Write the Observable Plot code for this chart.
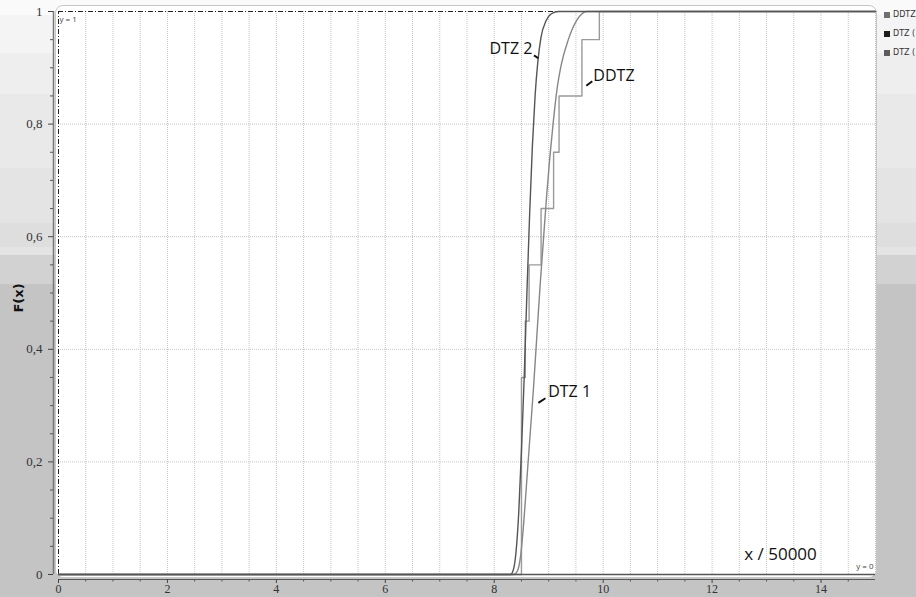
<!DOCTYPE html>
<html>
<head>
<meta charset="utf-8">
<script src="https://cdn.jsdelivr.net/npm/d3@7"></script>
<script src="https://cdn.jsdelivr.net/npm/@observablehq/plot@0.6"></script>
<style>
  html, body { margin: 0; padding: 0; }
  #wrap {
    position: relative; width: 916px; height: 597px; overflow: hidden;
    background: linear-gradient(to bottom,
      #fafafa 0px, #fafafa 15px,
      #f4f4f4 15px, #f4f4f4 53px,
      #eeeeee 53px, #eeeeee 94px,
      #e9e9e9 94px, #e9e9e9 168px,
      #e4e4e4 168px, #e4e4e4 223px,
      #dedede 223px, #dedede 247px,
      #e4e4e4 247px, #e4e4e4 255px,
      #d2d2d2 255px, #d2d2d2 284px,
      #c4c4c4 284px, #c4c4c4 597px);
  }
  #panel {
    position: absolute; left: 55px; top: 5px; width: 820px; height: 571px;
    background: #fff; border: 1px solid #c6c6c6; border-radius: 8px;
  }
  #chart { position: absolute; left: 0; top: 0; }
  #ylab {
    position: absolute; left: 18px; top: 298px;
    transform: translate(-50%, -50%) rotate(-90deg);
    font: bold 13px "DejaVu Sans", sans-serif; color: #111; white-space: nowrap;
  }
  #legend { position: absolute; left: 884px; top: 5px; font: 8px "DejaVu Sans", sans-serif; color: #333; white-space: nowrap; }
  #legend div { height: 19px; display: flex; align-items: center; }
  #legend span.sw { display: inline-block; width: 6px; height: 6px; margin-right: 3px; }
</style>
</head>
<body>
<div id="wrap">
  <div id="panel"></div>
  <div id="chart"></div>
  <div id="ylab">F(x)</div>
  <div id="legend"></div>
</div>
<script>
// ---- data ----
const seriesNames = ["DDTZ", "DTZ (", "DTZ ("];   // legend entries as visible in the reference
const legendColors = ["#707070", "#1c1c1c", "#5c5c5c"];

// DDTZ: empirical step CDF (step-after)
const ddtzX = [0, 8.50, 8.57, 8.64, 8.86, 9.09, 9.19, 9.61, 9.93, 15];
const ddtzF = [0, 0.35, 0.45, 0.55, 0.65, 0.75, 0.85, 0.95, 1.00, 1.00];

// DTZ 1: smooth CDF
const dtz1X = [0, 8.36, 8.42, 8.48, 8.54, 8.60, 8.66, 8.72, 8.78, 8.84, 8.90, 8.96, 9.02, 9.08, 9.15, 9.23, 9.36, 9.52, 9.70, 15];
const dtz1F = [0, 0, 0.005, 0.03, 0.09, 0.17, 0.25, 0.33, 0.42, 0.51, 0.59, 0.67, 0.74, 0.80, 0.86, 0.905, 0.95, 0.985, 1.0, 1.0];

// DTZ 2: smooth CDF
const dtz2X = [0, 8.30, 8.35, 8.40, 8.45, 8.50, 8.55, 8.60, 8.65, 8.70, 8.75, 8.80, 8.86, 8.95, 9.05, 9.18, 15];
const dtz2F = [0, 0, 0.008, 0.04, 0.11, 0.22, 0.35, 0.50, 0.64, 0.76, 0.85, 0.91, 0.955, 0.983, 0.996, 1.0, 1.0];

// axes
const xTickLabels = [0, 2, 4, 6, 8, 10, 12, 14];
const xMinorTicks = [0.5, 1, 1.5, 2.5, 3, 3.5, 4.5, 5, 5.5, 6.5, 7, 7.5, 8.5, 9, 9.5, 10.5, 11, 11.5, 12.5, 13, 13.5, 14.5];
const xGrid = [0.5, 1, 1.5, 2, 2.5, 3, 3.5, 4, 4.5, 5, 5.5, 6, 6.5, 7, 7.5, 8, 8.5, 9, 9.5, 10, 10.5, 11, 11.5, 12, 12.5, 13, 13.5, 14, 14.5, 15];
const yTickLabels = [0, 0.2, 0.4, 0.6, 0.8, 1];
const yMinorTicks = [0.05, 0.1, 0.15, 0.25, 0.3, 0.35, 0.45, 0.5, 0.55, 0.65, 0.7, 0.75, 0.85, 0.9, 0.95];
const yGrid = [0.2, 0.4, 0.6, 0.8];

// annotations (data coordinates)
const labelText = ["DTZ 2", "DDTZ", "DTZ 1"];
const labelX = [8.70, 9.82, 8.99];
const labelF = [0.933, 0.885, 0.325];
const labelAnchor = ["end", "start", "start"];
const pointerX1 = [8.73, 9.69, 8.81];
const pointerF1 = [0.922, 0.868, 0.305];
const pointerX2 = [8.81, 9.80, 8.94];
const pointerF2 = [0.917, 0.876, 0.313];
const axisNoteText = ["x / 50000"];
const axisNoteX = [12.59];
const axisNoteF = [0.036];
const refLineText = ["y = 1", "y = 0"];
const refLineX = [0, 15];
const refLineF = [1, 0];

// ---- build tables ----
const toRows = (xs, fs) => xs.map((x, i) => ({x, F: fs[i]}));
const ddtz = toRows(ddtzX, ddtzF);
const dtz1 = toRows(dtz1X, dtz1F);
const dtz2 = toRows(dtz2X, dtz2F);
const labels = labelText.map((t, i) => ({t, x: labelX[i], F: labelF[i], a: labelAnchor[i]}));
const pointers = pointerX1.map((x1, i) => ({x1, y1: pointerF1[i], x2: pointerX2[i], y2: pointerF2[i]}));
const refNotes = refLineText.map((t, i) => ({t, x: refLineX[i], F: refLineF[i]}));

const fmtY = d => d === 0 ? "0" : d === 1 ? "1" : d.toFixed(1).replace(".", ",");
const sans = "'Open Sans', 'DejaVu Sans', sans-serif";

const chart = Plot.plot({
  width: 916,
  height: 597,
  marginLeft: 53,
  insetLeft: 5,
  marginRight: 41,
  marginTop: 11,
  marginBottom: 18,
  insetBottom: 5,
  style: {background: "transparent", fontFamily: "'Liberation Serif', serif", fontSize: "12px", color: "#333"},
  x: {domain: [0, 15], axis: null, label: null},
  y: {domain: [0, 1], axis: null, label: null},
  marks: [
    // grid
    Plot.ruleX(xGrid, {x: d => d, y1: 0, y2: 1, stroke: "#c4c4c4", strokeDasharray: "1,1", strokeWidth: 1}),
    Plot.ruleY(yGrid, {y: d => d, x1: 0, x2: 15, stroke: "#c4c4c4", strokeDasharray: "1,1", strokeWidth: 1}),
    // reference dash-dot lines
    Plot.ruleY([1], {x1: 0, x2: 15, stroke: "#222", strokeDasharray: "5,2,1,2", strokeWidth: 1}),
    Plot.ruleX([0], {y1: 0, y2: 1, stroke: "#222", strokeDasharray: "5,2,1,2", strokeWidth: 1}),
    Plot.text(refNotes.filter(d => d.F === 1), {x: "x", y: "F", text: "t", textAnchor: "start", dy: 8, dx: 1, fontSize: 8, fontFamily: sans, fill: "#444"}),
    Plot.text(refNotes.filter(d => d.F === 0), {x: "x", y: "F", text: "t", textAnchor: "end", dy: -8, dx: -2, fontSize: 8, fontFamily: sans, fill: "#444"}),
    // axis lines
    Plot.ruleY([0], {x1: 0, x2: 15, dy: 5, stroke: "#555", strokeWidth: 1}),
    Plot.ruleX([0], {y1: 0, y2: 1, dx: -5, stroke: "#777", strokeWidth: 1.5}),
    Plot.axisX(xTickLabels, {anchor: "bottom", tickSize: 4, tickPadding: 1, label: null, tickFormat: d => String(d), stroke: "#444", fill: "#333"}),
    Plot.axisX(xMinorTicks, {anchor: "bottom", tickSize: 2.5, label: null, tickFormat: () => "", stroke: "#555"}),
    Plot.axisY(yTickLabels, {anchor: "left", tickSize: 5, tickPadding: 6, label: null, tickFormat: fmtY, stroke: "#444", fill: "#333", fontSize: 13}),
    Plot.axisY(yMinorTicks, {anchor: "left", tickSize: 3, label: null, tickFormat: () => "", stroke: "#555"}),
    // curves
    Plot.line(ddtz, {x: "x", y: "F", curve: "step-after", stroke: "#9a9a9a", strokeWidth: 1.4}),
    Plot.line(dtz1, {x: "x", y: "F", curve: "monotone-x", stroke: "#878787", strokeWidth: 1.4}),
    Plot.line(dtz2, {x: "x", y: "F", curve: "monotone-x", stroke: "#555", strokeWidth: 1.4}),
    Plot.ruleY([0], {x1: 0, x2: 15, stroke: "#555", strokeWidth: 1.5}),
    // annotations
    Plot.link(pointers, {x1: "x1", y1: "y1", x2: "x2", y2: "y2", stroke: "#111", strokeWidth: 2}),
    Plot.text(labels.filter(d => d.a === "end"), {x: "x", y: "F", text: "t", textAnchor: "end", fontSize: 16, fontFamily: sans, fill: "#111"}),
    Plot.text(labels.filter(d => d.a === "start"), {x: "x", y: "F", text: "t", textAnchor: "start", fontSize: 16, fontFamily: sans, fill: "#111"}),
    Plot.text(axisNoteText, {x: axisNoteX, y: axisNoteF, text: d => d, textAnchor: "start", fontSize: 17, fontFamily: sans, fill: "#111"})
  ]
});
document.getElementById("chart").appendChild(chart);

// legend
const legend = document.getElementById("legend");
seriesNames.forEach((name, i) => {
  const row = document.createElement("div");
  const sw = document.createElement("span");
  sw.className = "sw";
  sw.style.background = legendColors[i];
  row.appendChild(sw);
  row.appendChild(document.createTextNode(name));
  legend.appendChild(row);
});
</script>
</body>
</html>
